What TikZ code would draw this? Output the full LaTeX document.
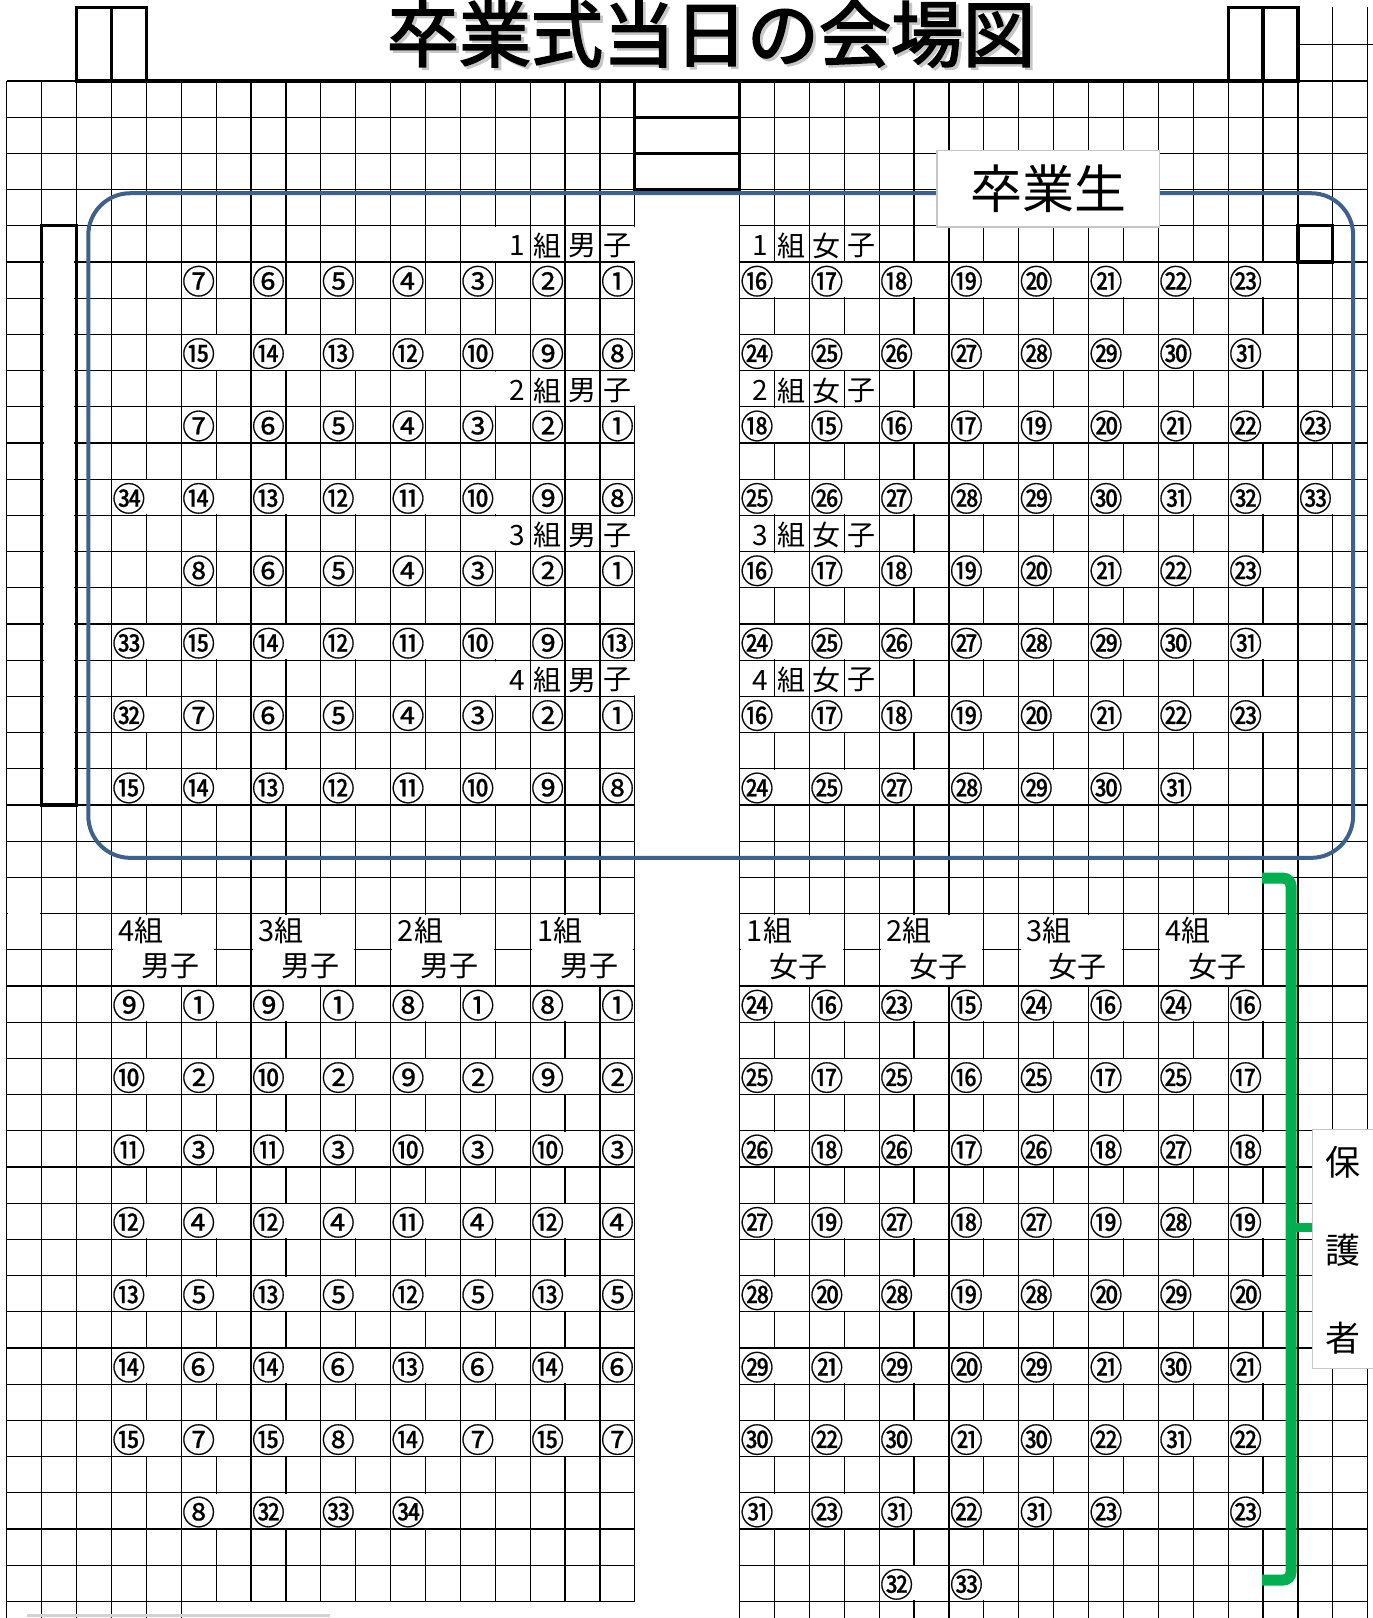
\documentclass[tikz,border=0pt]{standalone}
\usepackage{fontspec}
\setmainfont{Noto Sans CJK JP}
\newfontfamily\titlefont[FakeBold=2.5]{Noto Sans CJK JP}
\newfontfamily\seatfont[FakeBold=0.6]{Noto Sans CJK JP}
\definecolor{frameblue}{RGB}{62,96,140}
\definecolor{bracegreen}{RGB}{0,176,80}

\newcommand\circnum[1]{\ifnum#1<21\relax\char\numexpr"245F+#1\relax\else\char\numexpr"323C+#1\relax\fi}
\newcommand\seat[4]{%
  \ifnum#3>0\relax
    \ifnum#1=17\relax\else
      \ifnum\numexpr#3+#4*10\relax>9\relax
        \fill[gapfill] ({#1+0.93},{#2+0.03}) rectangle ({#1+1.07},{#2+0.97});
      \fi
    \fi
    \node[num] (seat-#1-#2) at ({#1+0.5},{#2+0.53}) {\circnum{#3}};
  \fi}

\begin{document}
\begin{tikzpicture}[x=17.45pt, y=-18.1pt,
  gridline/.style={line width=0.6pt},
  boxline/.style={line width=1.6pt},
  gapfill/.style={fill=white},
  num/.style={font=\seatfont\fontsize{16.5}{18}\selectfont, inner sep=0pt},
  lab/.style={font=\fontsize{14}{15}\selectfont, inner sep=0pt},
  grouplab/.style={font=\fontsize{14.5}{16}\selectfont, inner sep=0pt, anchor=west},
  tagbox/.style={draw=gray!45, fill=white, line width=0.8pt}]
  \useasboundingbox (-0.192,-2.238) rectangle (39.149,42.459);
  \clip (-0.192,-2.238) rectangle (39.149,42.459);

  % grid
  \foreach \row in {0,...,42}
    \draw[gridline] (0,\row) -- (18,\row) (21,\row) -- (39,\row);
  \foreach \col in {0,...,5}
    \draw[gridline] (\col,0) -- (\col,42.5);
  \foreach \col in {6,...,18}
    \draw[gridline] (\col,0) -- (\col,42);
  \foreach \col in {21,...,39}
    \draw[gridline] (\col,0) -- (\col,42.5);
  \draw[gridline] (38,-2.04) -- (38,0) (39,-2.04) -- (39,0) (37,-1) -- (39.15,-1);

  % merged cells
  \fill[gapfill] (1.06,4.04) rectangle (1.94,19.96);
  \fill[gapfill] (0.05,22.04) rectangle (0.95,23.96);
  \foreach \col in {3,7,11,15,21,25,29,33}
    \fill[gapfill] ({\col+0.05},23.04) rectangle ({\col+2.95},24.96);
  \foreach \row in {4,8,12,16}
    \fill[gapfill] (13.93,{\row+0.03}) rectangle (14.07,{\row+0.97})
                   (17.93,{\row+0.03}) rectangle (18.07,{\row+0.97});

  % thick frames
  \draw[boxline] (2,-2.036) rectangle (4,0) (3,-2.036) -- (3,0);
  \draw[boxline] (35,-2.036) rectangle (37,0) (36,-2.036) -- (36,0);
  \draw[boxline] (2,0) -- (37,0);
  \draw[boxline] (18,0) rectangle (21,3) (18,1) -- (21,1) (18,2) -- (21,2);
  \draw[boxline] (1,4) rectangle (2,20);
  \draw[boxline] (37,4) rectangle (38,5);
  \draw[gray!35, line width=1.5pt] (0.58,42.4) -- (9.26,42.4);

  % graduates area
  \draw[frameblue, line width=2pt, rounded corners=21pt] (2.338,3.1) rectangle (38.58,21.46);
  \node[tagbox, minimum width=111.3pt, minimum height=38.3pt, inner sep=0pt,
    font=\fontsize{26}{28}\selectfont] (grad) at (29.84,2.98) {卒業生};

  % parents
  \draw[bracegreen, line width=5.5pt, rounded corners=4pt]
    (35.97,22.02) -- (36.8,22.02) -- (36.8,41.41) -- (35.97,41.41);
  \draw[bracegreen, line width=4.5pt] (36.8,31.66) -- (37.45,31.66);
  \draw[tagbox] (37.41,28.96) rectangle (39.5,35.57);
  \node[align=center, font=\fontsize{17.5}{44}\selectfont] (parents) at (38.29,32.29) {保\\護\\者};

  % title
  \node[anchor=base, text=gray!45, font=\titlefont\fontsize{36}{40}\selectfont]
    (titleshadow) at (20.26,-0.48) {卒業式当日の会場図};
  \node[anchor=base, font=\titlefont\fontsize{36}{40}\selectfont]
    (title) at (20.18,-0.55) {卒業式当日の会場図};

  % class labels
  \foreach \row/\k in {4/1,8/2,12/3,16/4} {
    \node[lab] (boys\k) at (14.62,{\row+0.55}) {\k};
    \node[lab] at (15.5,{\row+0.55}) {組};
    \node[lab] at (16.5,{\row+0.55}) {男};
    \node[lab] at (17.5,{\row+0.55}) {子};
    \node[lab] (girls\k) at (21.6,{\row+0.55}) {\k};
    \node[lab] at (22.5,{\row+0.55}) {組};
    \node[lab] at (23.5,{\row+0.55}) {女};
    \node[lab] at (24.5,{\row+0.55}) {子};
  }
  \foreach \col/\k in {3/4,7/3,11/2,15/1} {
    \node[grouplab] (pboys\k) at ({\col+0.2},23.47) {\k{}組};
    \node[grouplab] at ({\col+0.85},24.45) {男子};
  }
  \foreach \col/\k in {21/1,25/2,29/3,33/4} {
    \node[grouplab] (pgirls\k) at ({\col+0.2},23.47) {\k{}組};
    \node[grouplab] at ({\col+0.85},24.45) {女子};
  }

  % seats
  \foreach \row/\s/\m/\seats in {
    5/3/0/{0,7,6,5,4,3,2,1}, 7/3/0/{0,15,14,13,12,10,9,8},
    9/3/0/{0,7,6,5,4,3,2,1}, 11/3/0/{34,14,13,12,11,10,9,8},
    13/3/0/{0,8,6,5,4,3,2,1}, 15/3/0/{33,15,14,12,11,10,9,13},
    17/3/0/{32,7,6,5,4,3,2,1}, 19/3/0/{15,14,13,12,11,10,9,8},
    5/21/0/{16,17,18,19,20,21,22,23}, 7/21/0/{24,25,26,27,28,29,30,31},
    9/21/0/{18,15,16,17,19,20,21,22,23}, 11/21/0/{25,26,27,28,29,30,31,32,33},
    13/21/0/{16,17,18,19,20,21,22,23}, 15/21/0/{24,25,26,27,28,29,30,31},
    17/21/0/{16,17,18,19,20,21,22,23}, 19/21/0/{24,25,27,28,29,30,31},
    25/3/1/{9,1,9,1,8,1,8,1}, 27/3/1/{10,2,10,2,9,2,9,2},
    29/3/1/{11,3,11,3,10,3,10,3}, 31/3/1/{12,4,12,4,11,4,12,4},
    33/3/1/{13,5,13,5,12,5,13,5}, 35/3/1/{14,6,14,6,13,6,14,6},
    37/3/1/{15,7,15,8,14,7,15,7}, 39/3/1/{0,8,32,33,34},
    25/21/1/{24,16,23,15,24,16,24,16}, 27/21/1/{25,17,25,16,25,17,25,17},
    29/21/1/{26,18,26,17,26,18,27,18}, 31/21/1/{27,19,27,18,27,19,28,19},
    33/21/1/{28,20,28,19,28,20,29,20}, 35/21/1/{29,21,29,20,29,21,30,21},
    37/21/1/{30,22,30,21,30,22,31,22}, 39/21/1/{31,23,31,22,31,23,0,23},
    41/21/1/{0,0,32,33}}
    \foreach \n [count=\i] in \seats {
      \pgfmathtruncatemacro\col{\s+2*\i-2}
      \seat{\col}{\row}{\n}{\m}
    };
\end{tikzpicture}
\end{document}
